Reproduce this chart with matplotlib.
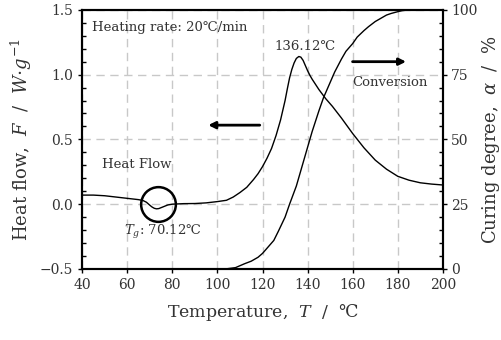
import matplotlib
matplotlib.use("Agg")
import matplotlib.pyplot as plt
import numpy as np
from matplotlib.ticker import MultipleLocator

plt.rcParams['font.family'] = ['DejaVu Serif', 'DejaVu Sans']
plt.rcParams['mathtext.fontset'] = 'dejavuserif'

# Heat flow (W/g) vs temperature
hf_T = [40, 45, 50, 55, 60, 65, 67, 68.5, 70, 71, 72, 73, 74, 75, 76, 78, 80, 85, 90, 95,
        100, 104, 107, 110, 113, 116, 118, 120, 122, 124, 126, 128, 129, 130, 131, 132,
        133, 134, 135, 136.1, 137, 138, 139, 140, 141, 142, 143.5, 145, 148, 151, 155,
        160, 165, 170, 175, 180, 185, 190, 195, 200]
hf_F = [0.07, 0.07, 0.065, 0.055, 0.045, 0.035, 0.028, 0.015, -0.008, -0.022, -0.032,
        -0.036, -0.034, -0.027, -0.02, -0.006, 0.0, 0.004, 0.005, 0.01, 0.02, 0.03, 0.055,
        0.09, 0.13, 0.19, 0.235, 0.29, 0.355, 0.43, 0.53, 0.65, 0.725, 0.80, 0.89, 0.975,
        1.04, 1.09, 1.125, 1.14, 1.135, 1.11, 1.07, 1.03, 0.995, 0.965, 0.925, 0.885, 0.815,
        0.755, 0.665, 0.545, 0.435, 0.34, 0.27, 0.215, 0.185, 0.165, 0.155, 0.148]

# Curing degree (%) vs temperature
cv_T = [40, 60, 80, 100, 104, 108, 112, 115, 118, 120, 122, 125, 127, 130, 132, 135, 137,
        140, 142, 145, 147, 150, 152, 155, 157, 160, 162, 165, 167, 170, 172, 175, 177,
        180, 182, 185, 190, 200]
cv_A = [0, 0, 0, 0, 0.05, 0.5, 2, 3, 4.5, 6, 8, 11, 14.5, 20, 25, 32, 38, 47, 53, 61, 66,
        72, 76, 81, 84, 87, 89.5, 92, 93.5, 95.5, 96.5, 98, 98.6, 99.3, 99.7, 100, 100, 100]

x_ticks = [40, 60, 80, 100, 120, 140, 160, 180, 200]
y_ticks = [-0.5, 0.0, 0.5, 1.0, 1.5]
y2_ticks = [0, 25, 50, 75, 100]

fig = plt.figure(figsize=(5.01, 3.40), dpi=100)
ax = fig.add_axes([0.164, 0.209, 0.720, 0.762])
ax2 = ax.twinx()

ax.plot(hf_T, hf_F, color='black', lw=1.0)
ax2.plot(cv_T, cv_A, color='black', lw=1.0)

ax.set_xlim(40, 200)
ax.set_ylim(-0.5, 1.5)
ax2.set_ylim(0, 100)
ax.set_xticks(x_ticks)
ax.set_yticks(y_ticks)
ax.set_yticklabels(['\u22120.5', '0.0', '0.5', '1.0', '1.5'])
ax2.set_yticks(y2_ticks)
ax.yaxis.set_minor_locator(MultipleLocator(0.1))
ax2.yaxis.set_minor_locator(MultipleLocator(5))

ax.grid(True, which='major', color='#c8c8c8', ls=(0, (6, 4)), lw=1.0)
ax.set_axisbelow(True)

tc = '#333333'
ax.tick_params(which='major', direction='out', length=3, width=1, labelsize=10, colors='black', labelcolor=tc)
ax.tick_params(which='minor', direction='in', length=3, width=1)
ax2.tick_params(which='major', direction='out', length=3, width=1, labelsize=10, labelcolor=tc, pad=3)
ax2.tick_params(which='minor', direction='in', length=3, width=1)
for a in (ax, ax2):
    for s in a.spines.values():
        s.set_linewidth(1.5)

ax.set_xlabel(r'Temperature,  $T$  /  ℃', fontsize=12.5, color=tc, labelpad=7)
ax.set_ylabel(r'Heat flow,  $F$  /  $W{\cdot}g^{-1}$', fontsize=13, color=tc, labelpad=4)
ax2.set_ylabel(r'Curing degree,  $\alpha$  /  $\%$', fontsize=13, color=tc, labelpad=2)

ax.text(44.4, 1.36, 'Heating rate: 20℃/min', fontsize=9.5, color=tc, va='center', ha='left')
ax.text(139, 1.22, '136.12℃', fontsize=9.5, color=tc, va='center', ha='center')
ax.text(176.4, 0.94, 'Conversion', fontsize=9.5, color=tc, va='center', ha='center')
ax.text(64, 0.31, 'Heat Flow', fontsize=9.5, color=tc, va='center', ha='center')
ax.text(75.6, -0.215, r'$T_g$: 70.12℃', fontsize=9.5, color=tc, va='center', ha='center')

ax.plot([73.6], [0.0], marker='o', ms=25, mfc='none', mec='black', mew=1.8)

ax.annotate('', xy=(94.7, 0.61), xytext=(120, 0.61),
            arrowprops=dict(arrowstyle='-|>', color='black', lw=2, mutation_scale=10))
ax.annotate('', xy=(184.9, 1.10), xytext=(158.7, 1.10),
            arrowprops=dict(arrowstyle='-|>', color='black', lw=2, mutation_scale=10))

fig.savefig('out.png', dpi=100)
